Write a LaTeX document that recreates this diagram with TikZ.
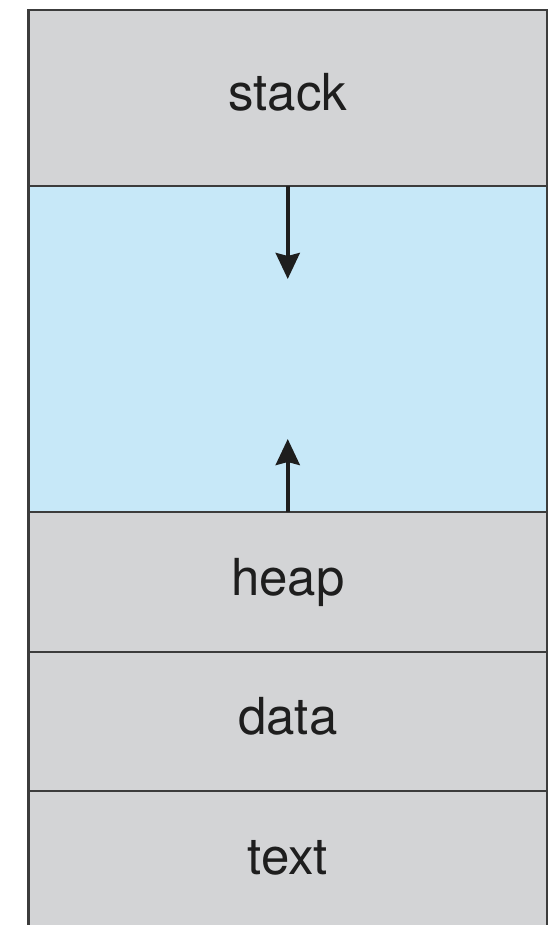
\documentclass[tikz,border=0pt]{standalone}
\usepackage{fontspec}
\setmainfont{TeX Gyre Heros}
\usetikzlibrary{positioning,arrows.meta}
\definecolor{segGray}{HTML}{D3D4D6}
\definecolor{freeBlue}{HTML}{C7E8F8}
\definecolor{edgeGray}{HTML}{3C3C3C}
\definecolor{inkBlack}{HTML}{1E1E1E}
\begin{document}
\begin{tikzpicture}[x=1pt,y=1pt,>={Stealth[length=26pt,width=24pt,inset=3pt]},
	seg/.style={draw=edgeGray,line width=2.5pt,fill=segGray,minimum width=518.5pt,
		inner sep=0pt,outer sep=0pt,text height=26pt,text depth=0pt,text=inkBlack,
		font=\fontsize{51}{60}\selectfont},
	gap/.style={seg,fill=freeBlue}]
	\useasboundingbox (0,0) rectangle (557,-925);
	\node[seg,minimum height=176pt,anchor=north] (stack) at (287.75,-10) {stack};
	\node[gap,minimum height=326pt,below=0pt of stack] (free) {};
	\node[seg,minimum height=140pt,below=0pt of free] (heap) {heap};
	\node[seg,minimum height=139pt,below=0pt of heap] (data) {data};
	\node[seg,minimum height=140pt,below=0pt of data] (text) {text};
	\coordinate[below=93pt of free.north] (stackTip);
	\coordinate[above=73pt of free.south] (heapTip);
	\draw[->,line width=4pt,inkBlack] (free.north) -- (stackTip);
	\draw[->,line width=4pt,inkBlack] (free.south) -- (heapTip);
\end{tikzpicture}
\end{document}
